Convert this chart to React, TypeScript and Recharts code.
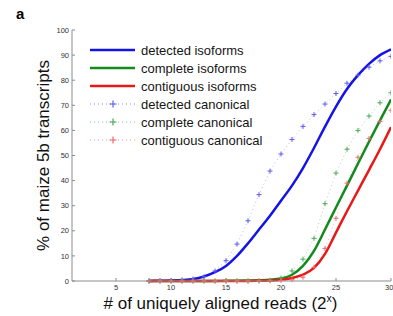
import React from 'react';
import { LineChart, Line, XAxis, YAxis } from 'recharts';

// x = log2 of uniquely aligned reads
const reads = [8, 9, 10, 11, 12, 13, 14, 15, 16, 17, 18, 19, 20, 21, 22, 23, 24, 25, 26, 27, 28, 29, 30];

const detectedIsoforms = [0, 0.1, 0.2, 0.4, 0.8, 1.8, 3.5, 6, 10, 15, 20.5, 26, 32, 38, 45, 53, 61.5, 69.5, 76.5, 82, 86.5, 90, 92.3];
const completeIsoforms = [0, 0, 0, 0, 0, 0, 0, 0.1, 0.1, 0.2, 0.3, 0.5, 1, 2.5, 6, 12, 20.5, 29.3, 38, 46.8, 55.5, 64, 72.3];
const contiguousIsoforms = [0, 0, 0, 0, 0, 0, 0, 0, 0, 0, 0.1, 0.2, 0.5, 1.2, 2.5, 5.2, 10.8, 19.3, 27.8, 36, 44.2, 52.5, 61.3];

const detectedCanonical = [0, 0.1, 0.2, 0.4, 0.8, 1.7, 4, 8.1, 14.7, 24, 34.4, 43.8, 50.6, 56.4, 61.6, 66.3, 70.5, 74.7, 78.8, 82, 85.2, 87.7, 89.5];
const completeCanonical = [0, 0, 0, 0, 0, 0, 0, 0, 0, 0, 0.1, 0.3, 1.2, 4, 8.7, 17, 30.8, 43, 52.5, 60, 65.7, 71, 75];
const contiguousCanonical = [0, 0, 0, 0, 0, 0, 0, 0, 0, 0, 0, 0, 0.2, 0.5, 1.5, 5.5, 13, 25, 39, 49.3, 56.8, 63.5, 68];

const xTicks = [5, 10, 15, 20, 25, 30];
const yTicks = [0, 10, 20, 30, 40, 50, 60, 70, 80, 90, 100];

const data = reads.map((x, i) => ({
  x,
  detIso: detectedIsoforms[i],
  compIso: completeIsoforms[i],
  contIso: contiguousIsoforms[i],
  detCan: detectedCanonical[i],
  compCan: completeCanonical[i],
  contCan: contiguousCanonical[i],
}));

const font = '"Liberation Sans", Arial, Helvetica, sans-serif';
const axisColor = '#8c8c8c';
const tickStyle = { fontSize: 7.5, fill: '#333', fontFamily: font };

const series = [
  { key: 'detIso', name: 'detected isoforms', color: '#1414e6', solid: true },
  { key: 'compIso', name: 'complete isoforms', color: '#138a1e', solid: true },
  { key: 'contIso', name: 'contiguous isoforms', color: '#e81818', solid: true },
  { key: 'detCan', name: 'detected canonical', color: '#5a5af0', solid: false },
  { key: 'compCan', name: 'complete canonical', color: '#4aa853', solid: false },
  { key: 'contCan', name: 'contiguous canonical', color: '#f06a6a', solid: false },
];

const plusDot = (color: string) => (props: any) => {
  const { cx, cy, index } = props;
  if (cx == null || cy == null) return <g key={index} />;
  return (
    <path
      key={index}
      d={`M${cx - 2.5},${cy}H${cx + 2.5}M${cx},${cy - 2.5}V${cy + 2.5}`}
      stroke={color}
      strokeWidth={1}
      fill="none"
    />
  );
};

const LegendBox = () => (
  <div style={{ position: 'absolute', left: 88, top: 41, fontFamily: font, fontSize: 13, color: '#151515' }}>
    {series.map((s) => (
      <div key={s.key} style={{ display: 'flex', alignItems: 'center', height: 18 }}>
        <svg width={52} height={18}>
          {s.solid ? (
            <line x1={2} x2={47} y1={9} y2={9} stroke={s.color} strokeWidth={2.5} />
          ) : (
            <g>
              <line x1={2} x2={47} y1={9} y2={9} stroke={s.color} strokeWidth={1} strokeDasharray="1 3" strokeOpacity={0.7} />
              <path d="M21.5,9H28.5M25,5.5V12.5" stroke={s.color} strokeWidth={1.2} />
            </g>
          )}
        </svg>
        <span style={{ marginLeft: 1 }}>{s.name}</span>
      </div>
    ))}
  </div>
);

const XLabel = (props: any) => {
  const { viewBox } = props;
  const cx = viewBox.x + viewBox.width / 2 - 11;
  return (
    <text x={cx} y={309} textAnchor="middle" fontFamily={font} fontSize={17} fill="#111">
      # of uniquely aligned reads (2
      <tspan fontSize={10.5} dy={-7}>x</tspan>
      <tspan dy={7}>)</tspan>
    </text>
  );
};

export default function App() {
  return (
    <div style={{ position: 'absolute', left: 0, top: 0, width: 393, height: 316, background: '#fff' }}>
      <div style={{ position: 'absolute', left: 16, top: 5, fontFamily: font, fontWeight: 'bold', fontSize: 15 }}>a</div>
      <LineChart width={393} height={316} data={data} margin={{ top: 30, right: 2, left: 0, bottom: 0 }}>
        <XAxis
          dataKey="x"
          type="number"
          domain={[1, 30]}
          ticks={xTicks}
          height={35}
          tickSize={-3}
          tickMargin={7}
          tick={tickStyle}
          stroke={axisColor}
          allowDataOverflow
          label={<XLabel />}
        />
        <XAxis
          xAxisId="top"
          orientation="top"
          type="number"
          domain={[1, 30]}
          ticks={xTicks}
          height={0}
          tickSize={-3}
          tickFormatter={() => ''}
          stroke={axisColor}
        />
        <YAxis
          type="number"
          domain={[0, 100]}
          ticks={yTicks}
          width={72}
          tickSize={-3}
          tickMargin={6}
          tick={tickStyle}
          stroke={axisColor}
          label={{
            value: '% of maize 5b transcripts',
            angle: -90,
            position: 'center',
            dx: 7,
            style: { fontFamily: font, fontSize: 17, fill: '#111' },
          }}
        />
        <YAxis
          yAxisId="right"
          orientation="right"
          type="number"
          domain={[0, 100]}
          ticks={yTicks}
          width={0}
          tickSize={-3}
          tickFormatter={() => ''}
          stroke={axisColor}
        />
        {series.filter((s) => !s.solid).map((s) => (
          <Line
            key={s.key}
            dataKey={s.key}
            name={s.name}
            type="linear"
            stroke={s.color}
            strokeOpacity={0.45}
            strokeWidth={1}
            strokeDasharray="1 3"
            dot={plusDot(s.color)}
            activeDot={false}
            isAnimationActive={false}
          />
        ))}
        {series.filter((s) => s.solid).map((s) => (
          <Line
            key={s.key}
            dataKey={s.key}
            name={s.name}
            type="monotone"
            stroke={s.color}
            strokeWidth={2.5}
            dot={false}
            activeDot={false}
            isAnimationActive={false}
          />
        ))}
      </LineChart>
      <LegendBox />
    </div>
  );
}
